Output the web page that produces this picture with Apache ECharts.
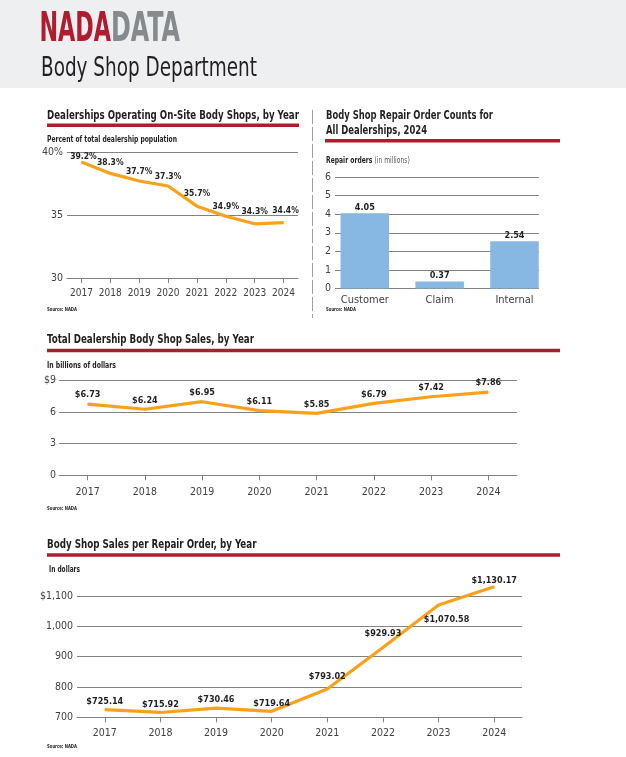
<!DOCTYPE html>
<html>
<head>
<meta charset="utf-8">
<title>NADA DATA - Body Shop Department</title>
<script src="https://cdn.jsdelivr.net/npm/echarts@6/dist/echarts.min.js"></script>
<style>
    html, body { margin: 0; padding: 0; background: #fff; }
    #chart { width: 626px; height: 757px; }
</style>
</head>
<body>
<div id="chart"></div>
<script>
// 数据
const years = ['2017', '2018', '2019', '2020', '2021', '2022', '2023', '2024'];
// 开设车身车间的经销商占比 (%)
const shopShare = [39.2, 38.3, 37.7, 37.3, 35.7, 34.9, 34.3, 34.4];
// 2024 维修工单数 (百万)
const orderTypes = ['Customer', 'Claim', 'Internal'];
const orderCounts = [4.05, 0.37, 2.54];
// 车身车间销售额 (十亿美元)
const sales = [6.73, 6.24, 6.95, 6.11, 5.85, 6.79, 7.42, 7.86];
// 每单销售额 (美元)
const salesPerOrder = [725.14, 715.92, 730.46, 719.64, 793.02, 929.93, 1070.58, 1130.17];

const NARROW = '"Liberation Sans Narrow", "DejaVu Sans Condensed", "Roboto", sans-serif';
const INK = '#231f20';
const RED = '#b01c2e';
const ORANGE = '#f9a11b';
const GRID_GRAY = '#808285';

// 按目标宽度计算横向缩放, 模拟窄体字
const measureCtx = document.createElement('canvas').getContext('2d');
function fitScale(text, size, weight, width) {
    measureCtx.font = `${weight} ${size}px ${NARROW}`;
    return width / measureCtx.measureText(text).width;
}

function textEl(text, x, y, size, width, opts = {}) {
    const weight = opts.weight || 'bold';
    return {
        type: 'text',
        x: x,
        y: y,
        scaleX: width ? fitScale(text, size, weight, width) : 1,
        style: {
            text: text,
            fontSize: size,
            fontWeight: weight,
            fontFamily: NARROW,
            fill: opts.color || INK,
            textAlign: 'left',
            textVerticalAlign: 'middle',
            verticalAlign: 'middle'
        }
    };
}

function rule(x1, x2, y) {
    return {
        type: 'rect',
        shape: { x: x1, y: y, width: x2 - x1, height: 3.5 },
        style: { fill: RED }
    };
}

function yearAxis(gridIndex, margin, size) {
    return {
        type: 'category',
        gridIndex: gridIndex,
        data: years,
        boundaryGap: true,
        axisLine: { show: true, lineStyle: { color: GRID_GRAY, width: 1 } },
        axisTick: { show: true, alignWithLabel: true, length: 5, lineStyle: { color: GRID_GRAY } },
        axisLabel: { interval: 0, margin: margin, fontSize: size, color: '#414042', fontFamily: NARROW }
    };
}

function valueAxis(gridIndex, min, max, interval, margin, formatter) {
    return {
        type: 'value',
        gridIndex: gridIndex,
        min: min,
        max: max,
        interval: interval,
        axisLine: { show: false },
        axisTick: { show: false },
        axisLabel: { margin: margin, fontSize: 10.5, color: '#414042', fontFamily: NARROW, formatter: formatter },
        splitLine: { show: true, lineStyle: { color: GRID_GRAY, width: 1 } }
    };
}

function lineSeries(xIndex, yIndex, data, formatter, distance, size, offsets) {
    return {
        type: 'line',
        xAxisIndex: xIndex,
        yAxisIndex: yIndex,
        data: data.map((v, i) => {
            const item = { value: v };
            if (offsets[i]) item.label = offsets[i];
            return item;
        }),
        symbol: 'circle',
        symbolSize: 1,
        clip: false,
        itemStyle: { color: ORANGE },
        lineStyle: { color: ORANGE, width: 3.2 },
        label: {
            show: true,
            position: 'top',
            distance: distance,
            fontSize: size,
            fontWeight: 'bold',
            fontFamily: NARROW,
            color: INK,
            formatter: p => formatter(p.value)
        },
        silent: true,
        animation: false
    };
}

const money = v => '$' + v.toLocaleString('en-US', { minimumFractionDigits: 2, maximumFractionDigits: 2 });

const option = {
    backgroundColor: '#fff',
    animation: false,
    grid: [
        { left: 67, top: 152, width: 231, height: 126, outerBoundsMode: 'none' },
        { left: 335, top: 177, width: 204, height: 111.5, outerBoundsMode: 'none' },
        { left: 327.4, top: 177, width: 224.5, height: 111.5, outerBoundsMode: 'none' },
        { left: 59, top: 380, width: 458, height: 95.3, outerBoundsMode: 'none' },
        { left: 77, top: 596, width: 445, height: 121.3, outerBoundsMode: 'none' }
    ],
    xAxis: [
        yearAxis(0, 10, 10),
        { type: 'category', gridIndex: 1, data: orderTypes, show: false },
        {
            type: 'category',
            gridIndex: 2,
            data: orderTypes,
            axisLine: { show: false },
            axisTick: { show: false },
            axisLabel: { margin: 6, fontSize: 11, color: '#414042', fontFamily: NARROW }
        },
        yearAxis(3, 11, 10.5),
        yearAxis(4, 10, 10.5)
    ],
    yAxis: [
        valueAxis(0, 30, 40, 5, 4, v => v === 40 ? '40%' : String(v)),
        valueAxis(1, 0, 6, 1, 4, v => String(v)),
        { type: 'value', gridIndex: 2, min: 0, max: 6, show: false },
        valueAxis(3, 0, 9, 3, 3, v => v === 9 ? '$9' : String(v)),
        valueAxis(4, 700, 1100, 100, 4, v => v === 1100 ? '$1,100' : v.toLocaleString('en-US'))
    ],
    series: [
        lineSeries(0, 0, shopShare, v => v.toFixed(1) + '%', 4, 8.5, {
            0: { offset: [2, 4] },
            1: { offset: [0, -2] },
            4: { offset: [0, -3.5] },
            6: { offset: [0, -3.5] },
            7: { offset: [2, -2.5] }
        }),
        {
            type: 'bar',
            xAxisIndex: 2,
            yAxisIndex: 2,
            data: orderCounts,
            barWidth: 48.5,
            itemStyle: { color: '#86b8e3' },
            label: {
                show: true,
                position: 'top',
                distance: 1,
                fontSize: 9,
                fontWeight: 'bold',
                fontFamily: NARROW,
                color: INK,
                formatter: p => p.value.toFixed(2)
            },
            silent: true
        },
        lineSeries(3, 3, sales, money, 4, 9, {}),
        lineSeries(4, 4, salesPerOrder, money, 3, 9, {
            4: { offset: [0, -4] },
            5: { offset: [0, -6] },
            6: { position: 'bottom', distance: 10, offset: [8, 0] },
            7: { distance: 1 }
        })
    ],
    graphic: [
        // 页眉
        { type: 'rect', shape: { x: 0, y: 0, width: 626, height: 88 }, style: { fill: '#eeeff1' } },
        textEl('NADA', 39.5, 30.5, 40, 71.5, { weight: 900, color: RED }),
        textEl('DATA', 111, 30.5, 40, 69, { weight: 900, color: '#868a8f' }),
        textEl('Body Shop Department', 41, 68.5, 27, 216, { weight: 'normal', color: INK }),

        // 图一
        textEl('Dealerships Operating On-Site Body Shops, by Year', 47, 116, 12.5, 252),
        rule(47, 299, 123.5),
        textEl('Percent of total dealership population', 47, 139.5, 8.5, 130),
        textEl('Source: NADA', 47, 309.5, 5.5, 30),

        // 分隔线
        {
            type: 'line',
            shape: { x1: 312.5, y1: 110, x2: 312.5, y2: 318 },
            style: { stroke: '#9d9fa2', lineWidth: 1, lineDash: [14, 3] }
        },

        // 图二
        textEl('Body Shop Repair Order Counts for', 326, 116, 12.5, 167),
        textEl('All Dealerships, 2024', 326, 130.5, 12.5, 101),
        rule(325, 560, 139),
        {
            type: 'text',
            x: 326,
            y: 160.5,
            scaleX: fitScale('Repair orders (in millions)', 8.5, 'bold', 89),
            style: {
                text: '{b|Repair orders }{n|(in millions)}',
                textVerticalAlign: 'middle',
                verticalAlign: 'middle',
                rich: {
                    b: { fontSize: 8.5, fontWeight: 'bold', fontFamily: NARROW, fill: INK, color: INK },
                    n: { fontSize: 8.5, fontWeight: 'normal', fontFamily: NARROW, fill: '#58595b', color: '#58595b' }
                }
            }
        },
        textEl('Source: NADA', 326, 310, 5.5, 30),

        // 图三
        textEl('Total Dealership Body Shop Sales, by Year', 47, 340, 12.5, 207),
        rule(47, 560, 348.8),
        textEl('In billions of dollars', 47, 366, 8.5, 69),
        textEl('Source: NADA', 47, 509, 5.5, 30),

        // 图四
        textEl('Body Shop Sales per Repair Order, by Year', 47, 545, 12.5, 209.5),
        rule(47, 560, 553.3),
        textEl('In dollars', 49, 570, 8.5, 31),
        textEl('Source: NADA', 47, 747, 5.5, 30)
    ]
};

const myChart = echarts.init(document.getElementById('chart'), null, { renderer: 'canvas' });
myChart.setOption(option);
</script>
</body>
</html>
